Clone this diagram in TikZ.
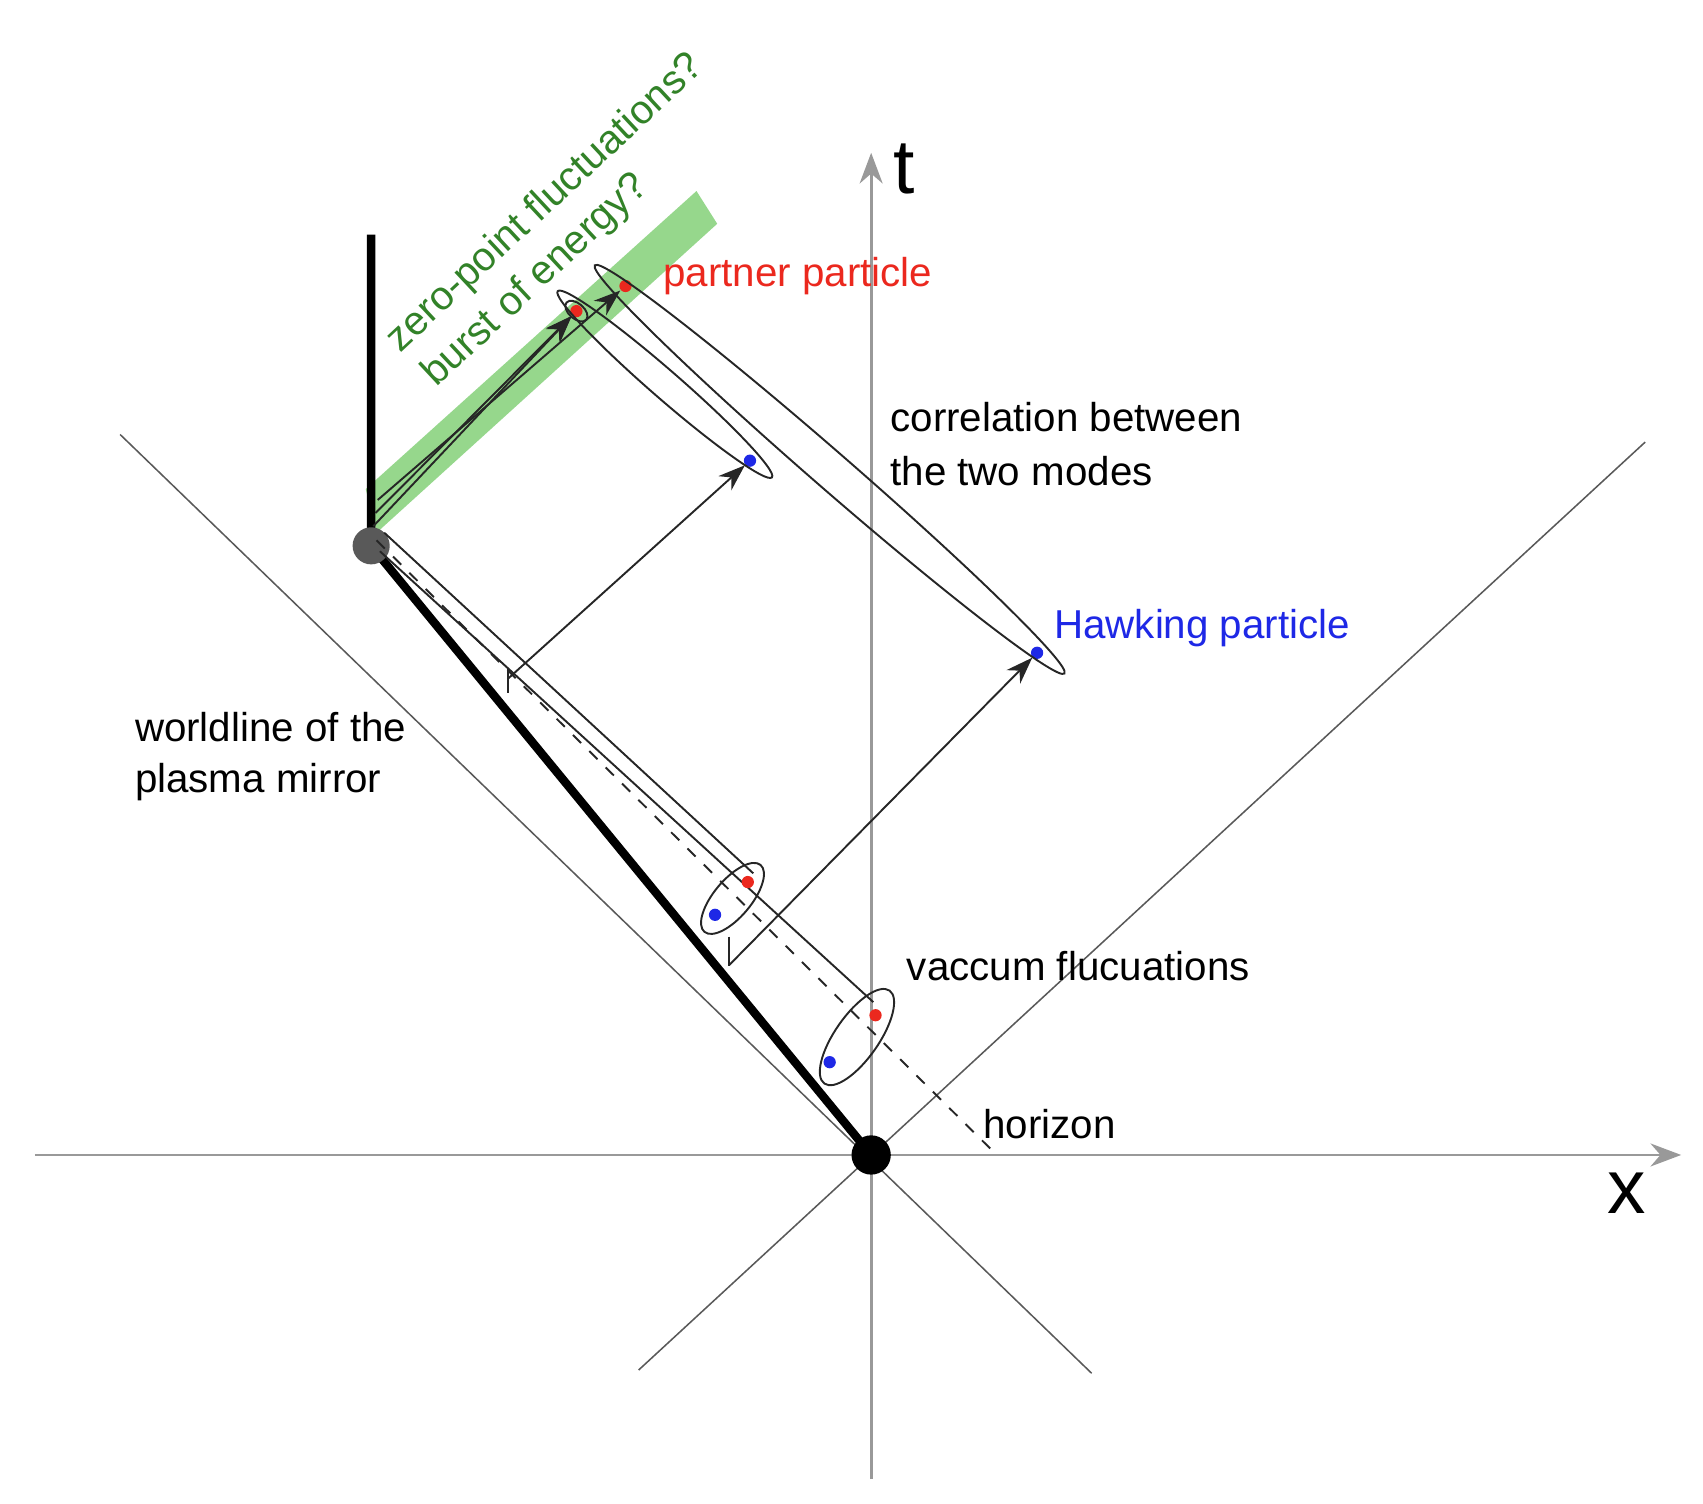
\documentclass[tikz,border=0pt]{standalone}
\usepackage{fontspec}
\setmainfont{Liberation Sans}
\usetikzlibrary{arrows.meta}
\definecolor{bandgreen}{RGB}{150,215,140}
\definecolor{txtgreen}{RGB}{50,130,40}
\definecolor{pred}{RGB}{235,40,30}
\definecolor{pblue}{RGB}{30,40,230}
\begin{document}
\begin{tikzpicture}[x=0.01cm,y=-0.01cm,
  thinl/.style={line width=0.5pt,black!85},
  axisl/.style={line width=0.7pt,gray!80},
  lbl/.style={font=\fontsize{10.5}{12}\selectfont,anchor=west,inner sep=0},
  arr/.style={thinl,-{Stealth[length=7pt,width=5pt]}},
  rdot/.style={circle,fill=pred,inner sep=0,minimum size=3.2pt},
  bdot/.style={circle,fill=pblue,inner sep=0,minimum size=3.2pt}]
\useasboundingbox (0,0) rectangle (1560,1377);
% green band
\fill[bandgreen] (335,448) -- (638,175) -- (657,205) -- (345,488) -- cycle;
% axes
\coordinate (O) at (798,1058);
\draw[axisl,-{Stealth[length=8pt]}] (32,1058) -- (1540,1058) coordinate (xe);
\draw[axisl,-{Stealth[length=8pt]}] (798,1355) -- (798,140) coordinate (te);
\node[font=\fontsize{20}{20}\selectfont\rmfamily] (xl) at (1490,1093) {x};
\node[font=\fontsize{20}{20}\selectfont\rmfamily] (tl) at (828,155) {t};
% light cone
\draw[line width=0.4pt,gray!70!black] (110,398) -- (1000,1258);
\draw[line width=0.4pt,gray!70!black] (1507,405) -- (585,1255);
% mirror
\coordinate (M) at (340,500);
\draw[line width=2.2pt] (O) -- (M) -- (340,215);
\fill[gray!70!black] (M) circle (17);
\fill (O) circle (18);
% horizon dashed
\draw[thinl,dashed] (345,495) -- (910,1055);
% thin lines from M to pairs
\draw[thinl] (352,488) -- (690,800);
\draw[thinl] (348,505) -- (800,918);
\draw[thinl] (465,612) -- (465,635);
\draw[thinl] (668,858) -- (668,885);
% dots
\node[rdot] (r1) at (528,285) {};
\node[rdot] (r2) at (573,262) {};
\node[bdot] (b1) at (687,422) {};
\node[bdot] (b2) at (950,598) {};
\node[rdot] (r3) at (685,808) {};
\node[bdot] (b3) at (655,838) {};
\node[rdot] (r4) at (802,930) {};
\node[bdot] (b4) at (760,973) {};
% arrows
\draw[arr] (342,482) -- (r1);
\draw[arr] (344,470) -- (r1);
\draw[arr] (346,458) -- (r2);
\draw[arr] (465,622) -- (b1);
\draw[arr] (668,884) -- (b2);
% ellipses
\draw[thinl] (609,352) ellipse [x radius=130, y radius=13, rotate=-41];
\draw[thinl] (760,430) ellipse [x radius=285, y radius=17, rotate=-41];
\draw[thinl] (528,285) ellipse [x radius=12, y radius=7, rotate=-41];
\draw[thinl] (671,823) ellipse [x radius=40, y radius=17, rotate=50];
\draw[thinl] (785,950) ellipse [x radius=52, y radius=20, rotate=55];
% labels
\node[lbl,text=pred] (pp) at (607,253) {partner particle};
\node[lbl] (c1) at (815,382) {correlation between};
\node[lbl] (c2) at (815,432) {the two modes};
\node[lbl,text=pblue] (hp) at (965,575) {Hawking particle};
\node[lbl] (w1) at (123,666) {worldline of the};
\node[lbl] (w2) at (123,716) {plasma mirror};
\node[lbl] (vf) at (830,885) {vaccum flucuations};
\node[lbl] (hz) at (900,1030) {horizon};
\node[lbl,text=txtgreen,rotate=43,anchor=south west] (z1) at (372,330) {zero-point fluctuations?};
\node[lbl,text=txtgreen,rotate=43,anchor=south west] (z2) at (405,362) {burst of energy?};
\end{tikzpicture}
\end{document}
